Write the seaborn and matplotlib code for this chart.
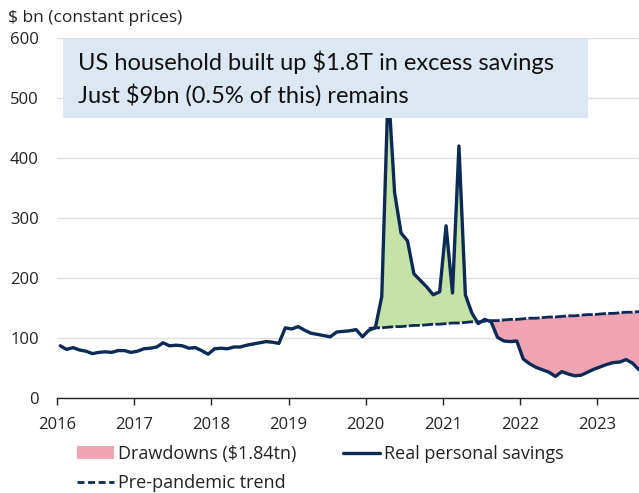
import numpy as np
import pandas as pd
import matplotlib
matplotlib.use("Agg")
import matplotlib.pyplot as plt
import seaborn as sns
from matplotlib.patches import Rectangle, Patch
from matplotlib.lines import Line2D

# ---- data ----
start_month = "2016-01"
savings = [
    87, 81, 84, 80, 78, 74, 76, 77, 76, 79, 79, 76,
    78, 82, 83, 85, 92, 87, 88, 87, 83, 84, 79, 73,
    82, 83, 82, 85, 85, 88, 90, 92, 94, 93, 91, 117,
    115, 119, 113, 108, 106, 104, 102, 110, 111, 112, 114, 102,
    113, 117, 169, 520, 342, 275, 262, 207, 196, 185, 172, 177,
    287, 175, 420, 172, 142, 124, 131, 127, 101, 95, 94, 95,
    65, 57, 51, 47, 43, 36, 44, 40, 37, 38, 43, 48,
    52, 56, 59, 60, 64, 58, 47,
]
trend_start = "2020-01"
trend = [
    116, 117, 117, 118, 119, 119, 120, 121, 121, 122, 123, 123,
    124, 125, 125, 126, 127, 127, 128, 129, 129, 130, 131, 131,
    132, 133, 133, 134, 135, 135, 136, 137, 137, 138, 139, 139,
    140, 141, 141, 142, 143, 143, 144,
]
drawdown_start = "2021-07"
year_ticks = [2016, 2017, 2018, 2019, 2020, 2021, 2022, 2023]
y_ticks = [0, 100, 200, 300, 400, 500, 600]

NAVY = "#0c2a55"
GREEN = "#c4e3a6"
PINK = "#eea4b3"
BOX = "#dce7f2"
GRID = "#dedede"
TXT = "#222222"

def decimal_year(dates):
    return dates.year + (dates.month - 1 + 0.5) / 12.0

s_dates = pd.date_range(start_month, periods=len(savings), freq="MS")
t_dates = pd.date_range(trend_start, periods=len(trend), freq="MS")
df = pd.DataFrame({"t": decimal_year(s_dates), "savings": savings})
dt = pd.DataFrame({"t": decimal_year(t_dates), "trend": trend})
m = df.merge(dt, on="t", how="inner")

sns.set_theme(style="white")
plt.rcParams["font.family"] = ["Open Sans", "DejaVu Sans"]

fig = plt.figure(figsize=(6.39, 4.93), dpi=100)
ax = fig.add_axes([57 / 639, 1 - 398 / 493, 1 - 57 / 639, (398 - 38) / 493])

above = (m["savings"] >= m["trend"]).to_numpy()
dd_from = decimal_year(pd.DatetimeIndex([drawdown_start]))[0]
below = ((m["savings"] < m["trend"]) & (m["t"] >= dd_from - 1 / 12)).to_numpy()
ax.fill_between(m["t"], m["savings"], m["trend"], where=above, interpolate=True,
                color=GREEN, linewidth=0, zorder=2)
ax.fill_between(m["t"], m["savings"], m["trend"], where=below, interpolate=True,
                color=PINK, linewidth=0, zorder=2)

sns.lineplot(data=dt, x="t", y="trend", ax=ax, color=NAVY, linewidth=2.0,
             linestyle=(0, (4, 0.8)), zorder=3)
sns.lineplot(data=df, x="t", y="savings", ax=ax, color=NAVY, linewidth=2.4, zorder=4)

ax.set_xlim(2016, df["t"].iloc[-1])
ax.set_ylim(0, 600)
ax.set_xticks(year_ticks)
ax.set_xticklabels([str(y) for y in year_ticks])
ax.set_yticks(y_ticks)
ax.set_xlabel("")
ax.set_ylabel("")
ax.grid(axis="y", color=GRID, linewidth=1.0, zorder=0)
ax.set_axisbelow(True)
for side in ["top", "right", "left"]:
    ax.spines[side].set_visible(False)
ax.spines["bottom"].set_color(TXT)
ax.spines["bottom"].set_linewidth(1.0)
ax.tick_params(axis="x", which="both", bottom=True, length=5, width=1.0,
               color=TXT, labelsize=12, pad=8.5, labelcolor=TXT)
ax.tick_params(axis="y", length=0, labelsize=12, pad=13, labelcolor=TXT)

fig.text(8 / 639, 1 - 18 / 493, "$ bn (constant prices)", fontsize=12.5,
         color=TXT, va="center", ha="left")

# annotation box
fig.patches.append(Rectangle((63 / 639, 1 - 118 / 493), 525 / 639, 79 / 493,
                             transform=fig.transFigure, facecolor=BOX,
                             edgecolor="none", zorder=10))
fig.text(78 / 639, 1 - 70 / 493, "US household built up $1.8T in excess savings",
         fontsize=17, family=["Lato", "DejaVu Sans"], color="#111111",
         va="baseline", zorder=11)
fig.text(78 / 639, 1 - 103 / 493, "Just $9bn (0.5% of this) remains",
         fontsize=17, family=["Lato", "DejaVu Sans"], color="#111111",
         va="baseline", zorder=11)

handles = [
    Patch(facecolor=PINK, edgecolor="none", label="Drawdowns ($1.84tn)"),
    Line2D([0], [0], color=NAVY, linewidth=2.0, linestyle=(0, (2.5, 1.3)),
           label="Pre-pandemic trend"),
    Line2D([0], [0], color=NAVY, linewidth=2.4, label="Real personal savings"),
]
fig.legend(handles=handles, loc="upper left", ncol=2,
           bbox_to_anchor=(77 / 639, 1 - 445 / 493), frameon=False,
           fontsize=13, handlelength=2.05, handleheight=0.7, handletextpad=0.22,
           columnspacing=2.6, labelspacing=0.62, borderaxespad=0, borderpad=0,
           labelcolor=TXT)

fig.savefig("out.png", dpi=100)
